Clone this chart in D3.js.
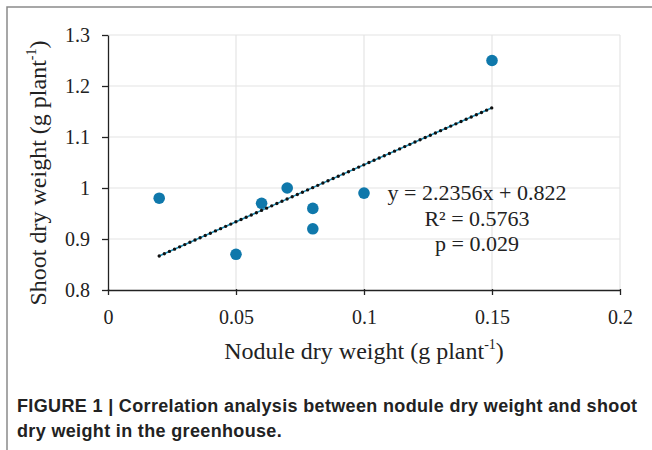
<!DOCTYPE html>
<html>
<head>
<meta charset="utf-8">
<script src="https://cdn.jsdelivr.net/npm/d3@7"></script>
<style>
html,body{margin:0;padding:0;background:#fff;}
svg{display:block;}
</style>
</head>
<body>
<svg id="chart" width="652" height="450"></svg>
<script>
// Data
const nodule = [0.02, 0.05, 0.06, 0.07, 0.08, 0.08, 0.10, 0.15];
const shoot  = [0.98, 0.87, 0.97, 1.00, 0.96, 0.92, 0.99, 1.25];
const xTicks = [0, 0.05, 0.1, 0.15, 0.2];
const yTicks = [0.8, 0.9, 1, 1.1, 1.2, 1.3];
const slope = 2.2356, intercept = 0.822;
const trendX = [0.02, 0.15];
const eqLines = ["y = 2.2356x + 0.822", "R² = 0.5763", "p = 0.029"];
const captionLines = ["FIGURE 1 | Correlation analysis between nodule dry weight and shoot", "dry weight in the greenhouse."];

const svg = d3.select("#chart");
const x = d3.scaleLinear().domain([0, 0.2]).range([108, 620]);
const y = d3.scaleLinear().domain([0.8, 1.3]).range([290, 35]);
const serif = "'Liberation Serif','Times New Roman',serif";

// frame
svg.append("path").attr("d", "M7,460 L7,7 L660,7").attr("fill", "none")
  .attr("stroke", "#8a8a8a").attr("stroke-width", 1.5);

// gridlines
svg.append("g").selectAll("line.gy").data(yTicks.slice(1)).join("line")
  .attr("x1", x(0)).attr("x2", x(0.2)).attr("y1", d => y(d)).attr("y2", d => y(d))
  .attr("stroke", "#e4e4e4").attr("stroke-width", 1.2);
svg.append("g").selectAll("line.gx").data(xTicks.slice(1)).join("line")
  .attr("x1", d => x(d)).attr("x2", d => x(d)).attr("y1", y(0.8)).attr("y2", y(1.3))
  .attr("stroke", "#e4e4e4").attr("stroke-width", 1.2);

// axes
const fmt = d => String(+d.toFixed(2));
const yAxis = svg.append("g").attr("transform", `translate(${x(0)},0)`)
  .call(d3.axisLeft(y).tickValues(yTicks).tickFormat(fmt).tickSizeInner(6).tickSizeOuter(0).tickPadding(12));
const xAxis = svg.append("g").attr("transform", `translate(0,${y(0.8)})`)
  .call(d3.axisBottom(x).tickValues(xTicks).tickFormat(fmt).tickSizeInner(5).tickSizeOuter(0).tickPadding(15));
[yAxis, xAxis].forEach(a => {
  a.select(".domain").attr("stroke", "#222").attr("stroke-width", 1.3);
  a.selectAll(".tick line").attr("stroke", "#222").attr("stroke-width", 1.3);
  a.selectAll("text").attr("font-family", serif).attr("font-size", 20).attr("fill", "#222");
});
xAxis.selectAll(".tick line").attr("y1", -1);

// axis titles
const xt = svg.append("text").attr("x", 364).attr("y", 359).attr("text-anchor", "middle")
  .attr("font-family", serif).attr("font-size", 24).attr("fill", "#222");
xt.append("tspan").text("Nodule dry weight (g plant");
xt.append("tspan").attr("font-size", 14).attr("dy", -10).text("-1");
xt.append("tspan").attr("dy", 10).text(")");

const yt = svg.append("text").attr("transform", "translate(46,173) rotate(-90)").attr("text-anchor", "middle")
  .attr("font-family", serif).attr("font-size", 24).attr("fill", "#222");
yt.append("tspan").text("Shoot dry weight (g plant");
yt.append("tspan").attr("font-size", 14).attr("dy", -10).text("-1");
yt.append("tspan").attr("dy", 10).text(")");

// points
svg.append("g").selectAll("circle").data(nodule.map((d, i) => [d, shoot[i]])).join("circle")
  .attr("cx", d => x(d[0])).attr("cy", d => y(d[1])).attr("r", 5.8).attr("fill", "#0f78ab");

// trendline
const trend = trendX.map(v => [x(v), y(slope * v + intercept)]);
svg.append("line").attr("x1", trend[0][0]).attr("y1", trend[0][1]).attr("x2", trend[1][0]).attr("y2", trend[1][1])
  .attr("stroke", "#1a8fb8").attr("stroke-width", 1.5);
svg.append("line").attr("x1", trend[0][0]).attr("y1", trend[0][1]).attr("x2", trend[1][0]).attr("y2", trend[1][1])
  .attr("stroke", "#111").attr("stroke-width", 3.4).attr("stroke-linecap", "round").attr("stroke-dasharray", "0,5.6");

// equation
const eq = svg.append("g").attr("font-family", serif).attr("font-size", 22).attr("fill", "#222").attr("text-anchor", "middle");
eqLines.forEach((t, i) => {
  eq.append("text").attr("x", 477).attr("y", 200 + i * 25.5).text(t);
});

// caption
const cap = svg.append("g").attr("font-family", "'Liberation Sans',Arial,sans-serif").attr("font-weight", "bold")
  .attr("font-size", 18).attr("fill", "#222");
const capTexts = captionLines.map((t, i) => cap.append("text").attr("x", 17).attr("y", 412 + i * 25).text(t));
const w0 = capTexts[0].node().getComputedTextLength();
const ls = (620 - w0) / (captionLines[0].length - 1);
capTexts.forEach(t => t.attr("letter-spacing", ls));
</script>
</body>
</html>
